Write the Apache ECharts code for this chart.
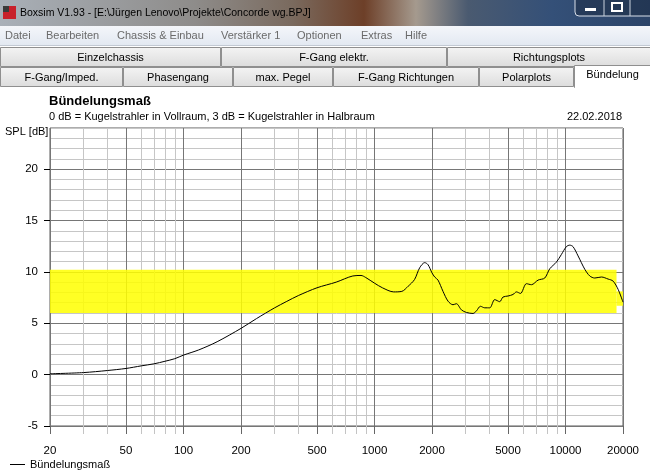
<!DOCTYPE html>
<html><head><meta charset="utf-8">
<script src="https://cdn.jsdelivr.net/npm/echarts@6/dist/echarts.min.js"></script>
<style>html,body{margin:0;padding:0;background:#fff}#c{width:650px;height:474px}</style>
</head><body><div id="c"></div>
<script>
// ---- data ----
const freqHz = [20,30,40,50,60,70,80,90,100,120,150,200,241,300,345,400,500,630,770,850,900,1000,1100,1260,1390,1500,1620,1724,1832,1906,2000,2066,2150,2284,2426,2576,2684,2852,3028,3280,3418,3586,3778,4012,4260,4524,4708,5002,5312,5536,5810,6244,6632,7186,7788,8270,8964,9522,10100,10526,10954,11638,12618,13398,14230,15432,16712,17750,18852,20000];
const splDb = [0.08,0.2,0.4,0.6,0.85,1.05,1.3,1.55,1.9,2.4,3.2,4.5,5.45,6.5,7.1,7.7,8.45,9.0,9.6,9.65,9.45,8.9,8.45,8.05,8.1,8.6,9.25,10.4,10.9,10.7,9.9,9.5,9.2,8.1,7.15,6.8,6.9,6.3,6.05,5.95,6.2,6.65,6.5,6.5,7.3,7.1,7.55,7.65,7.8,8.05,7.9,8.85,8.75,9.2,9.4,10.3,10.95,11.7,12.45,12.6,12.45,11.55,10.25,9.6,9.4,9.5,9.3,9.1,8.3,7.05];
const majorFreqTicks = [20,50,100,200,500,1000,2000,5000,10000,20000];
const minorFreqTicks = [30,40,60,70,80,90,300,400,600,700,800,900,3000,4000,6000,7000,8000,9000];
const dbTicks = [-5,0,5,10,15,20];
const dbRange = [-5,24];
const freqRange = [20,20000];
// yellow highlighter band (freq from, dB low, freq to, dB high)
const highlightBands = [[20,6.0,18500,10.2],[18500,6.7,20000,8.1]];
const seriesName = 'Bündelungsmaß';
const chartTitle = 'Bündelungsmaß';
const chartSubtitle = '0 dB = Kugelstrahler in Vollraum, 3 dB = Kugelstrahler in Halbraum';
const chartDate = '22.02.2018';
const yAxisName = 'SPL [dB]';
const windowTitle = 'Boxsim V1.93 - [E:\\Jürgen Lenovo\\Projekte\\Concorde wg.BPJ]';
const menuItems = ['Datei','Bearbeiten','Chassis & Einbau','Verstärker 1','Optionen','Extras','Hilfe'];
const tabsRow1 = ['Einzelchassis','F-Gang elektr.','Richtungsplots'];
const tabsRow2 = ['F-Gang/Imped.','Phasengang','max. Pegel','F-Gang Richtungen','Polarplots','Bündelung'];

// ---- layout ----
const FONT = '"Liberation Sans", Arial, sans-serif';
const menuX = [5,46,117,221,297,361,405];
const row1Edges = [0,221,447,651];
const row2Edges = [0,123,233,333,479,574,651];
const lg = Math.log10;

const chart = echarts.init(document.getElementById('c'), null, {renderer:'canvas'});

const g = [];
// title bar
g.push({type:'rect', shape:{x:0,y:0,width:650,height:26}, z:0,
  style:{fill:new echarts.graphic.LinearGradient(0,0,1,0,[
    {offset:0,color:'#a9b0b8'},{offset:0.3,color:'#8e8c8a'},{offset:0.45,color:'#7a6a5e'},
    {offset:0.56,color:'#6d3f28'},{offset:0.64,color:'#a59a8e'},{offset:0.72,color:'#4a5a70'},
    {offset:0.85,color:'#345078'},{offset:1,color:'#2c4468'}])}});
g.push({type:'rect', shape:{x:3,y:6,width:13,height:13}, style:{fill:'#c8202a'}});
g.push({type:'rect', shape:{x:3,y:6,width:6,height:6}, style:{fill:'#3a3a3a'}});
g.push({type:'text', style:{x:20,y:13,text:windowTitle,font:'10.5px '+FONT,fill:'#000',verticalAlign:'middle'}});
g.push({type:'rect', shape:{x:575,y:-4,width:80,height:20,r:4}, style:{fill:'rgba(30,45,70,0.55)',stroke:'#d7dee8',lineWidth:1}});
g.push({type:'line', shape:{x1:604,y1:0,x2:604,y2:16}, style:{stroke:'#c9d1dc'}});
g.push({type:'line', shape:{x1:630,y1:0,x2:630,y2:16}, style:{stroke:'#c9d1dc'}});
g.push({type:'rect', shape:{x:585,y:8,width:11,height:3}, style:{fill:'#fff'}});
g.push({type:'rect', shape:{x:612,y:3,width:10,height:8}, style:{fill:'none',stroke:'#fff',lineWidth:2}});
// menu bar
g.push({type:'rect', shape:{x:0,y:26,width:650,height:20},
  style:{fill:new echarts.graphic.LinearGradient(0,0,0,1,[{offset:0,color:'#f4f6fa'},{offset:1,color:'#e2e8f1'}])}});
g.push({type:'line', shape:{x1:0,y1:45.5,x2:650,y2:45.5}, style:{stroke:'#c2c9d3'}});
menuItems.forEach((m,i)=>g.push({type:'text', style:{x:menuX[i],y:36,text:m,font:'11px '+FONT,fill:'#6a6a6a',verticalAlign:'middle'}}));
// tabs
const tabFill = () => new echarts.graphic.LinearGradient(0,0,0,1,[{offset:0,color:'#f4f4f4'},{offset:1,color:'#dcdcdc'}]);
tabsRow1.forEach((t,i)=>{
  const x0=row1Edges[i], x1=row1Edges[i+1];
  g.push({type:'rect', shape:{x:x0+0.5,y:47.5,width:x1-x0-1,height:19}, style:{fill:tabFill(),stroke:'#8f8f8f'}});
  g.push({type:'text', style:{x:(x0+x1)/2,y:57.5,text:t,font:'11px '+FONT,fill:'#000',align:'center',verticalAlign:'middle'}});
});
tabsRow2.forEach((t,i)=>{
  const x0=row2Edges[i], x1=row2Edges[i+1];
  const sel = i===tabsRow2.length-1;
  if (sel) {
    g.push({type:'rect', shape:{x:x0+0.5,y:65.5,width:x1-x0-1,height:22}, style:{fill:'#fff',stroke:'#8f8f8f'}});
    g.push({type:'rect', shape:{x:x0+1,y:86,width:x1-x0-2,height:3}, style:{fill:'#fff'}});
    g.push({type:'text', style:{x:(x0+x1)/2,y:75,text:t,font:'11px '+FONT,fill:'#000',align:'center',verticalAlign:'middle'}});
  } else {
    g.push({type:'rect', shape:{x:x0+0.5,y:67.5,width:x1-x0-1,height:19}, style:{fill:tabFill(),stroke:'#8f8f8f'}});
    g.push({type:'text', style:{x:(x0+x1)/2,y:77.5,text:t,font:'11px '+FONT,fill:'#000',align:'center',verticalAlign:'middle'}});
  }
});
// y axis name
g.push({type:'text', z:100, style:{x:5,y:132,text:yAxisName,font:'11px '+FONT,fill:'#000',verticalAlign:'middle'}});

const option = {
  animation:false,
  backgroundColor:'#fff',
  textStyle:{fontFamily:FONT},
  title:[
    {text:chartTitle,left:49,top:95,textStyle:{fontSize:13,fontWeight:'bold',color:'#000',fontFamily:FONT},padding:0},
    {text:chartSubtitle,left:49,top:111,textStyle:{fontSize:11,fontWeight:'normal',color:'#000',fontFamily:FONT},padding:0},
    {text:chartDate,right:28,top:111,textStyle:{fontSize:11,fontWeight:'normal',color:'#000',fontFamily:FONT},padding:0}
  ],
  graphic:{elements:g},
  legend:{left:10,top:459,padding:0,itemWidth:15,itemHeight:1,itemGap:5,
    textStyle:{fontSize:11,color:'#000',fontFamily:FONT},
    data:[{name:seriesName,icon:'rect'}]},
  grid:{left:50,right:27,top:128,bottom:48,show:true,borderColor:'#5a5a5a',borderWidth:1},
  xAxis:[
    {type:'value',min:lg(freqRange[0]),max:lg(freqRange[1]),position:'bottom',
     axisLine:{show:false,onZero:false},
     axisTick:{show:true,length:8,lineStyle:{color:'#c4c4c4'},customValues:minorFreqTicks.map(lg)},
     axisLabel:{show:false},
     splitLine:{show:true,lineStyle:{color:'#c6c6c6',width:1}}},
    {type:'value',min:lg(freqRange[0]),max:lg(freqRange[1]),position:'bottom',
     axisLine:{show:false,onZero:false},
     axisTick:{show:true,length:8,lineStyle:{color:'#666'},customValues:majorFreqTicks.map(lg)},
     axisLabel:{show:true,customValues:majorFreqTicks.map(lg),margin:19,fontSize:11.5,color:'#000',fontFamily:FONT,
       formatter:v=>String(Math.round(Math.pow(10,v)))},
     splitLine:{show:true,lineStyle:{color:'#767676',width:1}}}
  ],
  yAxis:[
    {type:'value',min:dbRange[0],max:dbRange[1],interval:1,position:'left',
     axisLine:{show:false,onZero:false},axisTick:{show:false},axisLabel:{show:false},
     splitLine:{show:true,lineStyle:{color:'#c6c6c6',width:1}}},
    {type:'value',min:dbRange[0],max:dbRange[1],interval:5,position:'left',
     axisLine:{show:false,onZero:false},
     axisTick:{show:true,length:6,lineStyle:{color:'#000'},customValues:dbTicks},
     axisLabel:{show:true,customValues:dbTicks,margin:12,fontSize:11.5,color:'#000',fontFamily:FONT},
     splitLine:{show:true,lineStyle:{color:'#767676',width:1}}}
  ],
  series:[{
    name:seriesName,type:'line',xAxisIndex:1,yAxisIndex:1,
    data:freqHz.map((f,i)=>[lg(f),splDb[i]]),
    showSymbol:false,symbol:'none',smooth:0.3,
    lineStyle:{color:'#000',width:1},itemStyle:{color:'#000'},
    markArea:{silent:true,itemStyle:{color:'rgba(255,255,0,0.86)'},
      data:highlightBands.map(b=>[{xAxis:lg(b[0]),yAxis:b[1]},{xAxis:lg(b[2]),yAxis:b[3]}])}
  }]
};
chart.setOption(option);
</script></body></html>
